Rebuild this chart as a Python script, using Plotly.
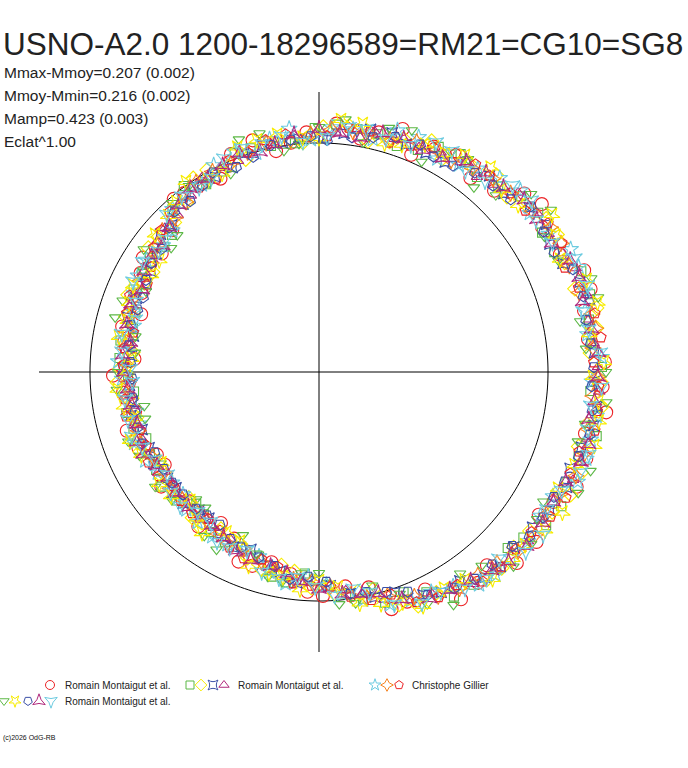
import numpy as np
import plotly.graph_objects as go

rm1_circle_theta = [2, 13, 21, 33, 41, 52, 63, 71, 80, 93, 101, 112, 122, 130, 143, 151, 162, 171, 181, 192, 203, 211, 219, 232, 243, 251, 262, 271, 283, 291, 302, 311, 322, 331, 342, 352,
                    7, 17, 26, 37, 46, 57, 67, 76, 86, 97, 106, 117, 127, 136, 147, 156, 167, 176, 186, 197, 207, 216, 225, 237, 247, 256, 267, 277, 287, 296, 307, 316, 327, 336, 347, 357]
rm1_circle_r = [286, 272, 284, 266, 272, 246, 253, 257, 237, 240, 225, 235, 222, 226, 197, 204, 187, 197, 206, 188, 196, 180, 187, 196, 187, 205, 204, 224, 221, 246, 268, 256, 276, 268, 281, 290,
                271, 284, 268, 279, 252, 258, 236, 247, 249, 231, 241, 217, 224, 204, 210, 194, 202, 185, 197, 201, 182, 195, 183, 180, 206, 196, 220, 216, 248, 242, 264, 275, 262, 282, 273, 284]

rm2_square_theta = [6, 16, 27, 36, 46, 57, 66, 76, 86, 96, 107, 116, 126, 137, 146, 156, 167, 176, 186, 197, 206, 216, 227, 236, 246, 257, 266, 277, 286, 296, 306, 317, 326, 336, 347, 356,
                    1, 11, 21, 32, 41, 51, 62, 71, 81, 91, 102, 111, 121, 132, 141, 151, 162, 171, 181, 192, 201, 211, 222, 231, 241, 252, 261, 272, 281, 291, 301, 312, 321, 331, 342, 351]
rm2_square_r = [274, 282, 264, 271, 258, 260, 243, 245, 248, 230, 234, 223, 230, 201, 204, 203, 191, 200, 186, 194, 188, 195, 180, 193, 191, 210, 202, 223, 240, 245, 263, 258, 274, 271, 285, 272,
                283, 275, 281, 263, 268, 251, 255, 239, 246, 244, 231, 235, 219, 219, 199, 202, 193, 201, 191, 197, 185, 190, 192, 183, 194, 194, 213, 213, 231, 236, 262, 265, 263, 277, 273, 282]

rm2_diamond_theta = [9, 18, 30, 39, 48, 60, 70, 78, 89, 100, 109, 119, 128, 140, 149, 158, 170, 179, 188, 200, 209, 219, 229, 238, 249, 259, 268, 280, 289, 298, 309, 318, 329, 339, 349, 358,
                     4, 13, 24, 34, 43, 54, 64, 73, 83, 94, 104, 114, 123, 134, 144, 153, 164, 174, 183, 194, 204, 214, 224, 233, 243, 254, 263, 274, 284, 293, 304, 313, 323, 334, 344, 353]
rm2_diamond_r = [281, 269, 275, 266, 265, 246, 248, 236, 245, 235, 225, 231, 215, 210, 194, 206, 192, 199, 189, 198, 183, 188, 193, 185, 199, 197, 216, 223, 246, 250, 267, 262, 272, 281, 273, 282,
                 272, 285, 269, 274, 257, 257, 257, 241, 248, 230, 236, 225, 231, 208, 211, 196, 201, 187, 202, 188, 196, 185, 181, 196, 189, 206, 201, 222, 224, 254, 256, 268, 264, 280, 270, 285]

rm2_starsq_theta = [4, 15, 24, 33, 44, 55, 64, 73, 84, 95, 104, 113, 124, 135, 144, 153, 164, 175, 184, 193, 204, 215, 224, 233, 244, 255, 264, 273, 284, 295, 304, 313, 324, 335, 344, 353,
                    9, 19, 29, 38, 49, 59, 69, 78, 89, 99, 109, 118, 129, 139, 149, 158, 169, 179, 189, 198, 209, 219, 229, 238, 249, 259, 269, 278, 289, 299, 309, 318, 329, 339, 349, 358]
rm2_starsq_r = [276, 280, 267, 271, 257, 256, 244, 250, 240, 234, 234, 222, 224, 208, 201, 194, 199, 188, 190, 193, 186, 185, 189, 183, 195, 200, 212, 214, 232, 246, 252, 266, 264, 273, 273, 280,
                274, 276, 264, 267, 260, 245, 244, 248, 234, 232, 231, 221, 216, 210, 196, 197, 189, 196, 189, 186, 189, 184, 183, 191, 190, 203, 209, 224, 233, 252, 264, 262, 269, 269, 280, 275]

rm2_triangle_theta = [1, 11, 22, 31, 42, 51, 61, 72, 81, 91, 102, 111, 121, 132, 141, 152, 161, 172, 182, 191, 201, 212, 221, 231, 242, 252, 261, 272, 281, 292, 301, 312, 321, 332, 341, 351,
                      6, 16, 26, 36, 47, 56, 66, 77, 86, 96, 107, 116, 126, 137, 146, 157, 166, 177, 187, 196, 206, 217, 226, 236, 247, 257, 266, 277, 286, 297, 306, 317, 326, 337, 346, 356]
rm2_triangle_r = [279, 275, 277, 268, 268, 251, 251, 245, 246, 238, 234, 226, 227, 211, 208, 198, 200, 191, 195, 195, 189, 190, 185, 190, 189, 199, 203, 217, 226, 246, 255, 264, 269, 268, 276, 276,
                  276, 279, 271, 270, 256, 253, 246, 247, 240, 238, 227, 227, 218, 211, 201, 201, 194, 195, 190, 193, 190, 185, 189, 188, 197, 200, 211, 220, 237, 249, 262, 264, 266, 276, 276, 281]

cg_star_theta = [3, 8, 17, 26, 37, 47, 56, 67, 77, 87, 97, 106, 117, 127, 136, 147, 157, 166, 177, 187, 196, 207, 217, 226, 237, 247, 256, 267, 276, 287, 297, 307, 316, 327, 337, 346,
                 13, 22, 31, 42, 52, 61, 72, 82, 92, 102, 111, 122, 132, 141, 152, 162, 171, 182, 192, 201, 212, 222, 231, 242, 252, 261, 272, 281, 292, 302, 311, 321, 332, 342, 351, 358]
cg_star_r = [283, 271, 278, 280, 264, 265, 250, 255, 239, 245, 245, 228, 232, 222, 204, 206, 201, 191, 201, 195, 187, 195, 184, 191, 196, 193, 206, 205, 223, 243, 247, 266, 267, 264, 281, 280,
             273, 280, 268, 271, 258, 244, 254, 245, 233, 238, 236, 221, 219, 201, 205, 195, 199, 197, 187, 198, 190, 183, 193, 195, 194, 214, 213, 232, 246, 253, 269, 269, 265, 281, 281, 273]

cg_stardia_theta = [5, 12, 23, 32, 43, 53, 62, 73, 82, 92, 103, 113, 123, 133, 142, 153, 163, 173, 183, 193, 202, 213, 223, 233, 242, 253, 263, 273, 282, 293, 303, 313, 323, 333, 343, 355,
                    9, 17, 28, 37, 48, 58, 67, 78, 87, 97, 108, 118, 128, 138, 147, 158, 168, 178, 188, 198, 207, 218, 228, 238, 247, 258, 268, 278, 287, 298, 308, 318, 328, 338, 348, 359]
cg_stardia_r = [275, 279, 272, 273, 262, 255, 252, 243, 243, 238, 235, 226, 226, 211, 205, 201, 196, 197, 191, 193, 192, 184, 187, 186, 194, 198, 209, 215, 231, 244, 258, 261, 271, 270, 278, 275,
                280, 272, 274, 267, 260, 249, 250, 243, 243, 233, 231, 227, 216, 211, 200, 199, 197, 191, 194, 190, 187, 189, 185, 191, 192, 205, 210, 225, 234, 254, 258, 268, 268, 277, 275, 279]

cg_pentagon_theta = [7, 18, 28, 38, 49, 58, 68, 78, 88, 98, 108, 118, 128, 138, 148, 158, 168, 178, 188, 198, 208, 218, 228, 238, 248, 258, 268, 278, 288, 298, 308, 318, 328, 338, 348, 357,
                     2, 12, 23, 33, 43, 53, 63, 73, 83, 93, 103, 113, 123, 133, 143, 153, 163, 173, 183, 193, 203, 213, 223, 233, 243, 253, 263, 273, 283, 293, 303, 313, 323, 333, 343, 352]
cg_pentagon_r = [284, 273, 275, 262, 260, 258, 244, 246, 236, 240, 231, 219, 221, 212, 198, 204, 190, 196, 196, 188, 193, 185, 190, 187, 201, 199, 214, 227, 234, 255, 266, 265, 273, 271, 282, 280,
                 275, 282, 267, 273, 262, 260, 252, 240, 246, 235, 238, 230, 220, 219, 207, 193, 201, 196, 188, 198, 188, 191, 189, 184, 197, 196, 213, 215, 234, 250, 254, 267, 266, 277, 272, 281]

rm3_tridown_theta = [0, 11, 19, 31, 40, 50, 59, 69, 79, 90, 99, 109, 120, 131, 140, 150, 160, 169, 180, 191, 200, 210, 221, 230, 240, 251, 260, 270, 279, 290, 300, 310, 321, 330, 340, 349,
                     5, 15, 25, 35, 45, 55, 64, 74, 84, 95, 104, 114, 125, 136, 145, 155, 165, 174, 185, 195, 205, 215, 226, 235, 245, 256, 265, 275, 284, 295, 305, 315, 326, 335, 345, 354]
rm3_tridown_r = [287, 266, 288, 263, 277, 241, 256, 259, 234, 245, 224, 246, 219, 224, 193, 203, 209, 187, 201, 178, 203, 183, 195, 177, 205, 192, 213, 201, 234, 236, 269, 253, 273, 259, 289, 271,
                 268, 289, 264, 283, 250, 260, 234, 254, 254, 229, 246, 217, 227, 197, 214, 191, 211, 185, 203, 180, 198, 200, 177, 200, 180, 211, 202, 233, 220, 256, 246, 275, 263, 286, 268, 289]

rm3_stardown_theta = [2, 14, 25, 34, 45, 56, 65, 74, 85, 94, 105, 116, 125, 134, 145, 155, 165, 176, 185, 194, 205, 215, 225, 234, 245, 256, 265, 275, 285, 294, 305, 316, 325, 334, 345, 354,
                      8, 19, 30, 40, 50, 60, 70, 80, 90, 100, 110, 120, 130, 140, 150, 160, 170, 180, 190, 200, 210, 220, 230, 240, 250, 260, 270, 280, 290, 300, 310, 320, 330, 340, 350, 359]
rm3_stardown_r = [285, 287, 266, 281, 258, 261, 251, 238, 253, 235, 240, 221, 232, 217, 195, 205, 198, 188, 202, 190, 196, 195, 182, 199, 187, 207, 218, 216, 240, 256, 254, 269, 276, 266, 285, 281,
                  273, 283, 273, 260, 267, 252, 242, 252, 234, 241, 239, 222, 222, 214, 194, 202, 203, 192, 198, 201, 182, 193, 191, 185, 206, 208, 209, 235, 245, 250, 270, 269, 281, 272, 284, 274]

rm3_pentdown_theta = [6, 16, 27, 38, 47, 57, 66, 77, 88, 97, 107, 118, 127, 136, 147, 157, 166, 177, 188, 197, 206, 217, 228, 237, 246, 257, 267, 278, 287, 296, 307, 318, 327, 336, 347, 357,
                      1, 11, 22, 32, 42, 52, 62, 72, 82, 92, 102, 112, 122, 132, 142, 152, 161, 172, 182, 192, 202, 212, 222, 232, 242, 252, 262, 272, 282, 292, 302, 312, 322, 332, 342, 352]
rm3_pentdown_r = [273, 275, 264, 269, 255, 246, 249, 241, 232, 234, 225, 226, 214, 208, 200, 191, 194, 189, 188, 190, 183, 184, 184, 182, 192, 199, 205, 224, 230, 248, 259, 260, 267, 269, 278, 273,
                  275, 272, 274, 265, 258, 253, 244, 247, 237, 236, 232, 221, 220, 216, 200, 196, 192, 192, 187, 188, 191, 183, 183, 182, 189, 195, 209, 210, 225, 237, 255, 259, 267, 266, 273, 276]

rm3_startri_theta = [9, 20, 29, 40, 50, 60, 70, 80, 90, 101, 110, 120, 130, 141, 150, 160, 171, 180, 190, 201, 210, 220, 231, 240, 250, 261, 270, 281, 290, 301, 311, 320, 331, 341, 350, 359,
                     4, 15, 24, 35, 45, 55, 65, 75, 85, 96, 105, 115, 125, 136, 145, 155, 166, 175, 185, 196, 205, 215, 226, 235, 245, 256, 265, 276, 285, 296, 306, 315, 326, 336, 345, 354]
rm3_startri_r = [276, 277, 266, 268, 260, 247, 248, 238, 243, 232, 233, 223, 218, 201, 202, 200, 191, 195, 190, 195, 187, 188, 184, 191, 200, 204, 217, 226, 242, 254, 263, 271, 268, 277, 274, 279,
                 280, 273, 275, 266, 261, 257, 245, 247, 240, 239, 228, 228, 224, 208, 204, 195, 198, 197, 192, 189, 194, 184, 188, 187, 197, 200, 210, 223, 229, 252, 258, 268, 270, 270, 279, 277]

rm3_startrid_theta = [4, 13, 24, 35, 44, 54, 63, 74, 83, 94, 104, 114, 123, 134, 143, 154, 164, 174, 183, 194, 203, 214, 224, 234, 243, 254, 264, 274, 283, 294, 304, 314, 324, 334, 343, 353,
                      9, 18, 29, 39, 49, 59, 68, 79, 88, 99, 109, 119, 128, 139, 148, 159, 169, 179, 188, 199, 208, 219, 229, 239, 248, 259, 269, 279, 288, 299, 309, 319, 329, 339, 348, 357]
rm3_startrid_r = [282, 271, 280, 265, 269, 249, 258, 243, 247, 231, 235, 234, 220, 219, 201, 207, 191, 198, 187, 197, 192, 183, 193, 185, 197, 208, 206, 224, 226, 253, 261, 259, 277, 270, 282, 274,
                  273, 282, 267, 273, 253, 258, 245, 248, 235, 239, 237, 222, 223, 203, 208, 196, 201, 189, 196, 198, 186, 191, 185, 198, 192, 210, 215, 219, 244, 251, 266, 274, 266, 280, 275, 283]

mean_radius = 229
title = "USNO-A2.0 1200-18296589=RM21=CG10=SG8"
stats = ["Mmax-Mmoy=0.207 (0.002)", "Mmoy-Mmin=0.216 (0.002)",
         "Mamp=0.423 (0.003)", "Eclat^1.00"]
observers = ["Romain Montaigut et al.", "Romain Montaigut et al.",
             "Christophe Gillier", "Romain Montaigut et al."]

RED = "#ec2326"
GREEN = "#5cb846"
YELLOW = "#f7ec00"
BLUE = "#3b4fa6"
PURPLE = "#b0287c"
CYAN = "#6dcbe0"
ORANGE = "#f5821f"

# (theta, r, color, symbol, size, angle, group)
series = [
    (rm1_circle_theta, rm1_circle_r, RED, "circle-open", 13, 0, 0),
    (rm2_square_theta, rm2_square_r, GREEN, "square-open", 9, 0, 1),
    (rm2_diamond_theta, rm2_diamond_r, YELLOW, "diamond-open", 11, 0, 1),
    (rm2_starsq_theta, rm2_starsq_r, BLUE, "star-square-open", 10, 0, 1),
    (rm2_triangle_theta, rm2_triangle_r, PURPLE, "triangle-up-open", 10, 0, 1),
    (cg_star_theta, cg_star_r, CYAN, "star-open", 12, 0, 2),
    (cg_stardia_theta, cg_stardia_r, ORANGE, "star-diamond-open", 12, 0, 2),
    (cg_pentagon_theta, cg_pentagon_r, RED, "pentagon-open", 11, 0, 2),
    (rm3_tridown_theta, rm3_tridown_r, GREEN, "triangle-down-open", 10, 0, 3),
    (rm3_stardown_theta, rm3_stardown_r, YELLOW, "star-open", 12, 180, 3),
    (rm3_pentdown_theta, rm3_pentdown_r, BLUE, "pentagon-open", 11, 180, 3),
    (rm3_startri_theta, rm3_startri_r, PURPLE, "star-triangle-up-open", 11, 0, 3),
    (rm3_startrid_theta, rm3_startrid_r, CYAN, "star-triangle-down-open", 11, 0, 3),
]

W, H = 688, 768
cx, cy, R = 319, 372, 310  # pixel centre of the polar plot and its outer radius

fig = go.Figure()

# reference circle and cross
ang = np.linspace(0, 360, 361)
fig.add_trace(go.Scatterpolar(theta=ang, r=[mean_radius] * len(ang), mode="lines",
                              line=dict(color="black", width=1), hoverinfo="skip"))
for a in (0, 90):
    fig.add_trace(go.Scatterpolar(theta=[a, a, a + 180], r=[280, 0, 280], mode="lines",
                                  line=dict(color="black", width=1), hoverinfo="skip"))

for th, r, col, sym, sz, rot, grp in series:
    fig.add_trace(go.Scatterpolar(
        theta=th, r=r, mode="markers",
        marker=dict(symbol=sym, size=sz, angle=rot, color=col, line=dict(width=1.1, color=col)),
        name=observers[grp]))

# hand-built legend: symbol positions in pixels
legend_rows = [
    (685, [(50, 0)], 63, 0),
    (685, [(190, 1), (201, 2), (213, 3), (224, 4)], 236, 1),
    (685, [(375, 5), (387, 6), (399, 7)], 410, 2),
    (701, [(4, 8), (15, 9), (28, 10), (39, 11), (51, 12)], 63, 3),
]
annotations = []
for y, syms, tx, grp in legend_rows:
    for x, k in syms:
        _, _, col, sym, sz, rot, _ = series[k]
        fig.add_trace(go.Scatter(x=[x], y=[y], mode="markers", xaxis="x", yaxis="y",
                                 marker=dict(symbol=sym, size=min(sz, 10) - 1, angle=rot, color=col,
                                             line=dict(width=1, color=col)),
                                 hoverinfo="skip"))
    annotations.append(dict(x=tx, y=y, xref="x", yref="y", text=observers[grp],
                            showarrow=False, xanchor="left", yanchor="middle",
                            font=dict(size=10, color="#222222")))

annotations.append(dict(x=1, y=44, xref="x", yref="y", text=title, showarrow=False,
                        xanchor="left", yanchor="middle",
                        font=dict(size=31.5, color="#222222")))
for i, s in enumerate(stats):
    annotations.append(dict(x=2, y=72 + 23 * i, xref="x", yref="y", text=s, showarrow=False,
                            xanchor="left", yanchor="middle",
                            font=dict(size=15.5, color="#222222")))
annotations.append(dict(x=1, y=738, xref="x", yref="y", text="(c)2026 OdG-RB", showarrow=False,
                        xanchor="left", yanchor="middle", font=dict(size=7, color="#111111")))

fig.update_layout(
    width=W, height=H,
    margin=dict(l=0, r=0, t=0, b=0),
    paper_bgcolor="white", plot_bgcolor="rgba(0,0,0,0)",
    showlegend=False,
    font=dict(family="Liberation Sans, Arial, sans-serif"),
    polar=dict(
        domain=dict(x=[(cx - R) / W, (cx + R) / W], y=[(H - cy - R) / H, (H - cy + R) / H]),
        bgcolor="rgba(0,0,0,0)",
        radialaxis=dict(range=[0, R], visible=False),
        angularaxis=dict(visible=False, rotation=0, direction="counterclockwise"),
    ),
    xaxis=dict(range=[0, W], visible=False, fixedrange=True),
    yaxis=dict(range=[H, 0], visible=False, fixedrange=True),
    annotations=annotations,
)

# the page's default 8px body margin would shift the whole picture
fig.write_html("out.html", config={"displayModeBar": False},
               post_script="document.body.style.margin='0';")
